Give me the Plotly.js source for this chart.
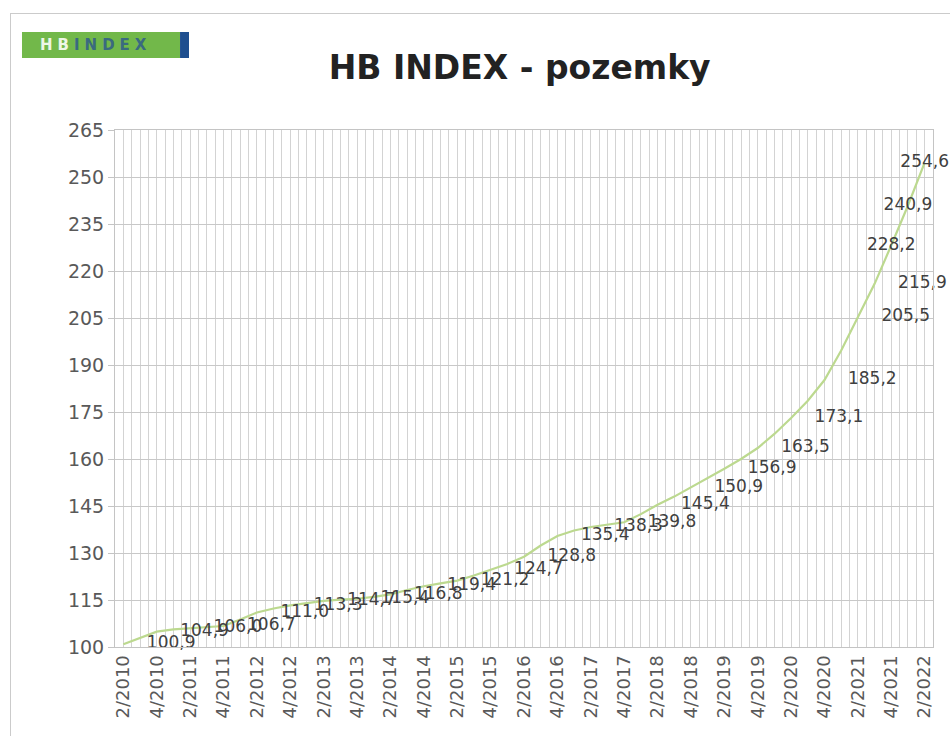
<!DOCTYPE html>
<html>
<head>
<meta charset="utf-8">
<script src="https://cdn.plot.ly/plotly-3.0.1.min.js"></script>
<style>
  html, body { margin: 0; padding: 0; background: #ffffff; }
  #wrap { position: relative; width: 950px; height: 736px; overflow: hidden; }
  #chart { width: 950px; height: 736px; }
  #frame { position: absolute; left: 10px; top: 13px; width: 960px; height: 740px;
           border: 1px solid #cbcbcb; pointer-events: none; box-sizing: border-box; }
</style>
</head>
<body>
<div id="wrap">
  <div id="chart"></div>
  <div id="frame"></div>
</div>
<script>
// Quarterly categories (quarter/year)
const quarters = [
  "2/2010","3/2010","4/2010",
  "1/2011","2/2011","3/2011","4/2011",
  "1/2012","2/2012","3/2012","4/2012",
  "1/2013","2/2013","3/2013","4/2013",
  "1/2014","2/2014","3/2014","4/2014",
  "1/2015","2/2015","3/2015","4/2015",
  "1/2016","2/2016","3/2016","4/2016",
  "1/2017","2/2017","3/2017","4/2017",
  "1/2018","2/2018","3/2018","4/2018",
  "1/2019","2/2019","3/2019","4/2019",
  "1/2020","2/2020","3/2020","4/2020",
  "1/2021","2/2021","3/2021","4/2021",
  "1/2022","2/2022"
];

// HB INDEX - pozemky, one value per quarter
const indexValues = [
  100.9, 102.9, 104.9,
  105.6, 106.0, 106.4, 106.7,
  108.8, 111.0, 112.3, 113.3,
  114.0, 114.7, 115.1, 115.4,
  116.0, 116.8, 118.2, 119.4,
  120.3, 121.2, 122.8, 124.7,
  126.5, 128.8, 132.4, 135.4,
  137.2, 138.3, 139.0, 139.8,
  142.4, 145.4, 148.0, 150.9,
  153.8, 156.9, 160.0, 163.5,
  168.0, 173.1, 178.6, 185.2,
  194.6, 205.5, 215.9, 228.2,
  240.9, 254.6
];

// Quarters that carry a data label
const labelledQuarters = [
  "2/2010","4/2010","2/2011","4/2011","2/2012","4/2012","2/2013","4/2013",
  "2/2014","4/2014","2/2015","4/2015","2/2016","4/2016","2/2017","4/2017",
  "2/2018","4/2018","2/2019","4/2019","2/2020","4/2020","2/2021",
  "3/2021","4/2021","1/2022","2/2022"
];
// Labels drawn centred on their point instead of to its right
const centredLabelQuarters = ["4/2021","1/2022","2/2022"];

// Axis tick labels (every second quarter)
const tickLabels = quarters.filter((q, i) => i % 2 === 0);

const idx = quarters.map((q, i) => i);
const tickVals = tickLabels.map(q => quarters.indexOf(q));
const labelX = labelledQuarters.map(q => quarters.indexOf(q));
const labelY = labelX.map(i => indexValues[i]);
const labelText = labelY.map(v => v.toFixed(1).replace('.', ','));
const labelPos = labelledQuarters.map(q => centredLabelQuarters.includes(q) ? 'middle center' : 'middle right');

const FONT = '"DejaVu Sans", "Open Sans", sans-serif';

const traces = [
  {
    x: idx, y: indexValues, type: 'scatter', mode: 'lines',
    line: { color: '#bcd98f', width: 2.2 },
    hoverinfo: 'skip', showlegend: false
  },
  {
    x: labelX, y: labelY, type: 'scatter', mode: 'markers+text',
    text: labelText, textposition: labelPos,
    textfont: { family: FONT, size: 17, color: '#404040' },
    marker: { size: 36, color: 'rgba(0,0,0,0)' },
    cliponaxis: false, hoverinfo: 'skip', showlegend: false
  }
];

const layout = {
  width: 950, height: 736,
  margin: { l: 115, r: 17, t: 130, b: 89 },
  paper_bgcolor: '#ffffff', plot_bgcolor: '#ffffff',
  showlegend: false,
  title: {
    text: '<b>HB INDEX - pozemky</b>',
    font: { family: FONT, size: 33, color: '#222222' },
    xref: 'container', yref: 'container',
    x: 0.547, xanchor: 'center', y: 0.909, yanchor: 'middle'
  },
  xaxis: {
    range: [-0.5, 48.5],
    tickmode: 'array', tickvals: tickVals, ticktext: tickLabels,
    tickangle: -90,
    tickfont: { family: FONT, size: 18, color: '#595959' },
    showgrid: true, gridcolor: '#d3d3d3', gridwidth: 1,
    minor: { tickmode: 'linear', tick0: -0.5, dtick: 0.5, showgrid: true, gridcolor: '#d3d3d3', gridwidth: 1, ticks: '' },
    showline: true, linecolor: '#c4c4c4', linewidth: 1, mirror: true,
    zeroline: false, ticks: '', fixedrange: true
  },
  yaxis: {
    range: [100, 265], tickmode: 'linear', tick0: 100, dtick: 15,
    tickfont: { family: FONT, size: 19, color: '#595959' },
    showgrid: true, gridcolor: '#c8c8c8', gridwidth: 1,
    showline: true, linecolor: '#c4c4c4', linewidth: 1, mirror: true,
    ticks: 'outside', ticklen: 6, tickcolor: '#c4c4c4',
    zeroline: false, fixedrange: true
  },
  shapes: [
    { type: 'rect', xref: 'paper', yref: 'paper', x0: -0.1137, x1: 0.0795, y0: 1.1393, y1: 1.1896,
      fillcolor: '#72b84a', line: { width: 0 }, layer: 'above' },
    { type: 'rect', xref: 'paper', yref: 'paper', x0: 0.0795, x1: 0.0905, y0: 1.1393, y1: 1.1896,
      fillcolor: '#1f4f8f', line: { width: 0 }, layer: 'above' }
  ],
  annotations: [
    { xref: 'paper', yref: 'paper', x: -0.0244, y: 1.1644, xanchor: 'center', yanchor: 'middle',
      showarrow: false,
      text: '<b><span style="color:#eef6e6;letter-spacing:5px">HB</span><span style="color:#3a6a80;letter-spacing:5px">INDEX</span></b>',
      font: { family: FONT, size: 15 } }
  ]
};

Plotly.newPlot('chart', traces, layout, { displayModeBar: false, staticPlot: true });
</script>
</body>
</html>
